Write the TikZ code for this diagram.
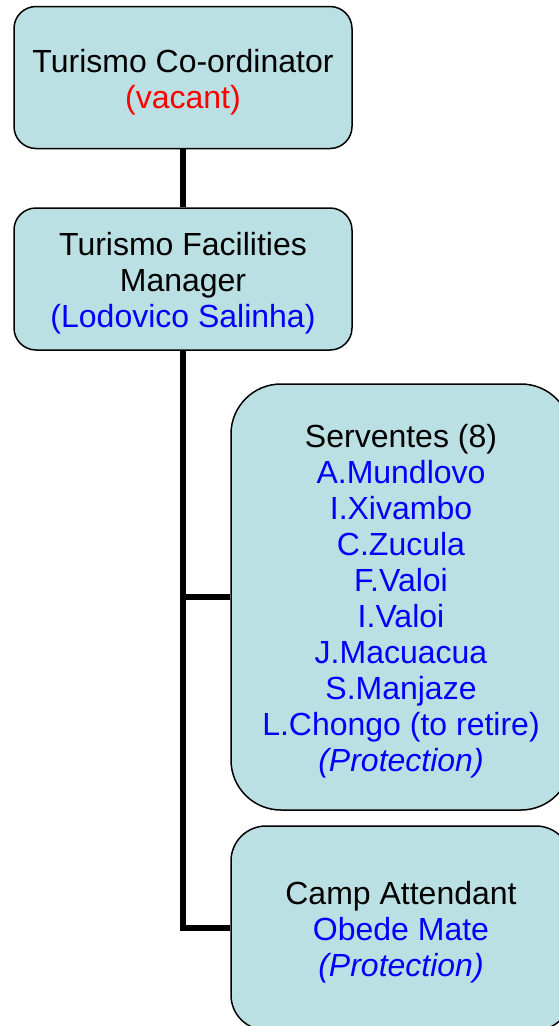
\documentclass[tikz,border=0pt]{standalone}
\usepackage{fontspec}
\setmainfont{Liberation Sans}
\usepackage{tikz}
\usetikzlibrary{positioning}
\definecolor{boxfill}{RGB}{187,224,227}
\definecolor{namecol}{RGB}{0,0,255}
\definecolor{vacantcol}{RGB}{255,0,0}
\newcommand{\toprule}{\rule{0pt}{32pt}}
\tikzset{
  basic/.style   = {draw, fill=boxfill, line width=1.5pt, inner sep=0pt, align=center,
                    font=\fontsize{32}{36}\selectfont, rectangle},
  head/.style    = {basic, rounded corners=22pt, minimum width=338pt, minimum height=142pt},
  staff/.style   = {basic, rounded corners=50pt, minimum width=340pt, minimum height=426pt},
  small/.style   = {basic, rounded corners=35pt, minimum width=340pt, minimum height=204pt},
  link/.style    = {draw, line width=5.5pt}
}

\begin{document}
\begin{tikzpicture}[x=1pt,y=-1pt]

\useasboundingbox (0,0) rectangle (559,1026);

% head boxes on the left, staff boxes on the right
\node[head] (c1) at (183,77.5) {\toprule Turismo Co-ordinator\\\textcolor{vacantcol}{(vacant)}};
\node[head] (c2) at (183,279) {\toprule Turismo Facilities\\Manager\\\textcolor{namecol}{(Lodovico Salinha)}};

\node[staff] (c21) at (401,597) {\toprule Serventes (8)\\
  \textcolor{namecol}{A.Mundlovo}\\
  \textcolor{namecol}{I.Xivambo}\\
  \textcolor{namecol}{C.Zucula}\\
  \textcolor{namecol}{F.Valoi}\\
  \textcolor{namecol}{I.Valoi}\\
  \textcolor{namecol}{J.Macuacua}\\
  \textcolor{namecol}{S.Manjaze}\\
  \textcolor{namecol}{L.Chongo (to retire)}\\
  \textcolor{namecol}{\itshape (Protection)}};
\node[small] (c22) at (401,928) {\toprule Camp Attendant\\
  \textcolor{namecol}{Obede Mate}\\
  \textcolor{namecol}{\itshape (Protection)}};

\draw[link] (c1.south) -- (c2.north);
\foreach \value in {1,2}
  \draw[link] (c2.south) |- (c2\value.west);

\end{tikzpicture}
\end{document}
